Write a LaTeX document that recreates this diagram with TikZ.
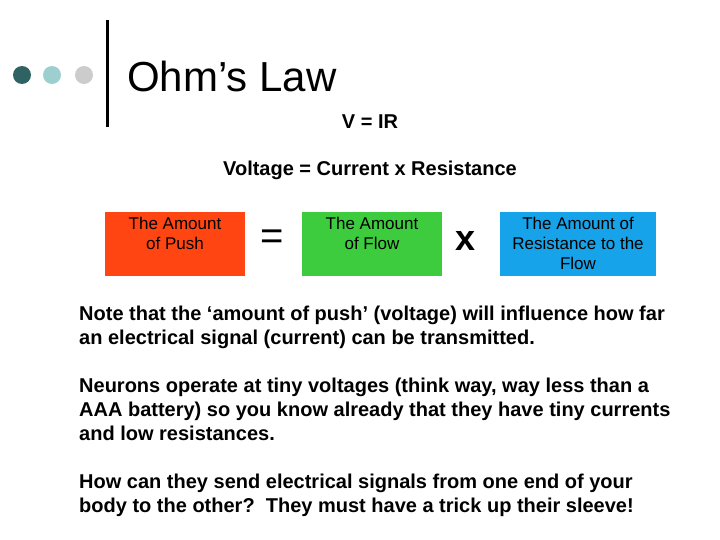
\documentclass[tikz,border=0pt]{standalone}
\usepackage{fontspec}
\setmainfont{Liberation Sans}
\definecolor{dotA}{HTML}{2F6262}
\definecolor{dotB}{HTML}{9DCFD1}
\definecolor{dotC}{HTML}{CCCCCC}
\definecolor{redbox}{HTML}{FF4512}
\definecolor{greenbox}{HTML}{3DCC3D}
\definecolor{bluebox}{HTML}{17A3EA}
\begin{document}
\begin{tikzpicture}[x=1pt,y=-1pt,
  boxtext/.style={inner sep=0pt,font=\fontsize{17}{20}\selectfont,align=center,anchor=north},
  para/.style={anchor=north west,inner sep=0pt,font=\bfseries\fontsize{20}{24}\selectfont,align=left}]
\useasboundingbox (0,0) rectangle (720,540);
\fill[white] (0,0) rectangle (720,540);
\fill[dotA] (22,75) circle (9);
\fill[dotB] (52,75) circle (9);
\fill[dotC] (84,75) circle (9);
\draw[line width=3pt] (107,20) -- (107,127);
\node[anchor=west,inner sep=0pt,font=\fontsize{42}{48}\selectfont] (title) at (127,76) {Ohm’s Law};
\node[inner sep=0pt,font=\bfseries\fontsize{20}{22}\selectfont] (vir) at (370,122) {V = IR};
\node[inner sep=0pt,font=\bfseries\fontsize{20}{22}\selectfont] (vcr) at (370,170) {Voltage = Current x Resistance};
\fill[redbox] (105,212) rectangle (245,276);
\fill[greenbox] (302,212) rectangle (442,276);
\fill[bluebox] (500,212) rectangle (656,276);
\node[boxtext] (push) at (175,217) {The Amount\\of Push};
\node[boxtext] (flow) at (372,217) {The Amount\\of Flow};
\node[boxtext] (res) at (578,217) {The Amount of\\Resistance to the\\Flow};
\node[inner sep=0pt,font=\fontsize{40}{44}\selectfont] (eq) at (272,240) {=};
\node[inner sep=0pt,font=\bfseries\fontsize{36}{40}\selectfont] (times) at (466,241) {x};
\node[para] (p1) at (79,306) {Note that the ‘amount of push’ (voltage) will influence how far\\an electrical signal (current) can be transmitted.};
\node[para] (p2) at (79,378) {Neurons operate at tiny voltages (think way, way less than a\\AAA battery) so you know already that they have tiny currents\\and low resistances.};
\node[para] (p3) at (79,474) {How can they send electrical signals from one end of your\\body to the other?\ \ They must have a trick up their sleeve!};
\end{tikzpicture}
\end{document}
